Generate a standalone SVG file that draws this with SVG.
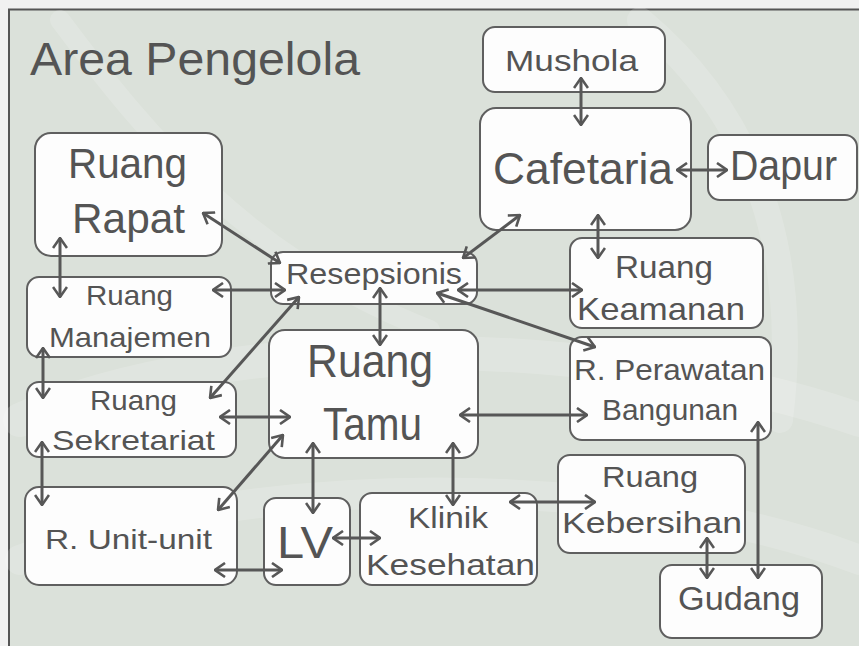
<svg xmlns="http://www.w3.org/2000/svg" width="859" height="646" viewBox="0 0 859 646">
  <defs>
    <style>
      .box { fill: #fdfdfd; stroke: #5f5f5f; stroke-width: 2; }
      .lbl { font-family: "Liberation Sans", "DejaVu Sans", sans-serif; fill: #545454; }
      .link { fill: none; stroke: #575757; stroke-width: 3; marker-start: url(#head); marker-end: url(#head); }
      .wm { fill: none; stroke: #ffffff; stroke-linecap: round; opacity: 0.16; }
    </style>
    <marker id="head" viewBox="0 0 12 16" refX="11" refY="8" markerWidth="12" markerHeight="16" markerUnits="userSpaceOnUse" orient="auto-start-reverse">
      <path d="M1,1 L11,8 L1,15" fill="none" stroke="#575757" stroke-width="2.6" stroke-linejoin="miter"/>
    </marker>
  </defs>

  <!-- page and frame -->
  <rect x="0" y="0" width="859" height="646" fill="#f1f1f1"/>
  <rect x="9" y="9.5" width="855" height="645" fill="#dbe1da" stroke="#555" stroke-width="2"/>

  <!-- faint background emblem -->
  <g id="watermark">
    <path class="wm" d="M20,420 C220,330 600,330 860,420" stroke-width="34"/>
    <path class="wm" d="M20,560 C250,470 620,470 860,560" stroke-width="30"/>
    <path class="wm" d="M640,20 C760,120 800,260 780,420" stroke-width="26"/>
    <path class="wm" d="M60,20 C150,140 250,260 430,330" stroke-width="20"/>
  </g>

  <text class="lbl" x="30" y="75" font-size="46" textLength="330" lengthAdjust="spacingAndGlyphs">Area Pengelola</text>

  <!-- rooms -->
  <g id="mushola">
    <rect class="box" x="483" y="27" width="182" height="65" rx="12"/>
    <text class="lbl" x="505" y="71" font-size="30" textLength="133" lengthAdjust="spacingAndGlyphs">Mushola</text>
  </g>
  <g id="cafetaria">
    <rect class="box" x="480" y="108" width="211" height="122" rx="16"/>
    <text class="lbl" x="493" y="184" font-size="44" textLength="180" lengthAdjust="spacingAndGlyphs">Cafetaria</text>
  </g>
  <g id="dapur">
    <rect class="box" x="708" y="135" width="149" height="65" rx="12"/>
    <text class="lbl" x="730" y="180" font-size="42" textLength="107" lengthAdjust="spacingAndGlyphs">Dapur</text>
  </g>
  <g id="ruang-rapat">
    <rect class="box" x="35" y="133" width="187" height="123" rx="16"/>
    <text class="lbl" x="68" y="178" font-size="42" textLength="119" lengthAdjust="spacingAndGlyphs">Ruang</text>
    <text class="lbl" x="72" y="233" font-size="42" textLength="113" lengthAdjust="spacingAndGlyphs">Rapat</text>
  </g>
  <g id="resepsionis">
    <rect class="box" x="271" y="252" width="206" height="52" rx="12"/>
    <text class="lbl" x="286" y="284" font-size="29" textLength="176" lengthAdjust="spacingAndGlyphs">Resepsionis</text>
  </g>
  <g id="ruang-keamanan">
    <rect class="box" x="570" y="238" width="193" height="90" rx="12"/>
    <text class="lbl" x="615" y="278" font-size="32" textLength="98" lengthAdjust="spacingAndGlyphs">Ruang</text>
    <text class="lbl" x="577" y="320" font-size="32" textLength="168" lengthAdjust="spacingAndGlyphs">Keamanan</text>
  </g>
  <g id="ruang-manajemen">
    <rect class="box" x="27" y="277" width="204" height="80" rx="12"/>
    <text class="lbl" x="86" y="305" font-size="28" textLength="87" lengthAdjust="spacingAndGlyphs">Ruang</text>
    <text class="lbl" x="49" y="347" font-size="28" textLength="162" lengthAdjust="spacingAndGlyphs">Manajemen</text>
  </g>
  <g id="ruang-tamu">
    <rect class="box" x="269" y="330" width="209" height="128" rx="16"/>
    <text class="lbl" x="307" y="377" font-size="47" textLength="126" lengthAdjust="spacingAndGlyphs">Ruang</text>
    <text class="lbl" x="323" y="440" font-size="47" textLength="99" lengthAdjust="spacingAndGlyphs">Tamu</text>
  </g>
  <g id="r-perawatan-bangunan">
    <rect class="box" x="570" y="337" width="201" height="103" rx="12"/>
    <text class="lbl" x="574" y="380" font-size="29" textLength="191" lengthAdjust="spacingAndGlyphs">R. Perawatan</text>
    <text class="lbl" x="602" y="420" font-size="29" textLength="136" lengthAdjust="spacingAndGlyphs">Bangunan</text>
  </g>
  <g id="ruang-sekretariat">
    <rect class="box" x="27" y="382" width="209" height="75" rx="12"/>
    <text class="lbl" x="90" y="410" font-size="28" textLength="87" lengthAdjust="spacingAndGlyphs">Ruang</text>
    <text class="lbl" x="52" y="450" font-size="28" textLength="163" lengthAdjust="spacingAndGlyphs">Sekretariat</text>
  </g>
  <g id="ruang-kebersihan">
    <rect class="box" x="558" y="455" width="187" height="98" rx="12"/>
    <text class="lbl" x="602" y="487" font-size="30" textLength="96" lengthAdjust="spacingAndGlyphs">Ruang</text>
    <text class="lbl" x="562" y="533" font-size="30" textLength="180" lengthAdjust="spacingAndGlyphs">Kebersihan</text>
  </g>
  <g id="r-unit-unit">
    <rect class="box" x="25" y="487" width="212" height="98" rx="14"/>
    <text class="lbl" x="45" y="549" font-size="28" textLength="167" lengthAdjust="spacingAndGlyphs">R. Unit-unit</text>
  </g>
  <g id="lv">
    <rect class="box" x="264" y="498" width="86" height="87" rx="12"/>
    <text class="lbl" x="277" y="558" font-size="44" textLength="56" lengthAdjust="spacingAndGlyphs">LV</text>
  </g>
  <g id="klinik-kesehatan">
    <rect class="box" x="360" y="493" width="177" height="92" rx="12"/>
    <text class="lbl" x="408" y="528" font-size="30" textLength="80" lengthAdjust="spacingAndGlyphs">Klinik</text>
    <text class="lbl" x="366" y="575" font-size="30" textLength="169" lengthAdjust="spacingAndGlyphs">Kesehatan</text>
  </g>
  <g id="gudang">
    <rect class="box" x="660" y="565" width="162" height="73" rx="12"/>
    <text class="lbl" x="678" y="610" font-size="34" textLength="122" lengthAdjust="spacingAndGlyphs">Gudang</text>
  </g>

  <!-- connectors, drawn over the rooms they link -->
  <g id="connectors">
    <line class="link" x1="581" y1="78" x2="581" y2="125"/>
    <line class="link" x1="677" y1="170" x2="727" y2="170"/>
    <line class="link" x1="520" y1="215" x2="463" y2="258"/>
    <line class="link" x1="598" y1="215" x2="598" y2="258"/>
    <line class="link" x1="458" y1="290" x2="582" y2="290"/>
    <line class="link" x1="437" y1="293" x2="595" y2="347"/>
    <line class="link" x1="203" y1="213" x2="280" y2="263"/>
    <line class="link" x1="213" y1="290" x2="285" y2="290"/>
    <line class="link" x1="299" y1="297" x2="210" y2="398"/>
    <line class="link" x1="380" y1="288" x2="380" y2="345"/>
    <line class="link" x1="60" y1="238" x2="60" y2="297"/>
    <line class="link" x1="43" y1="348" x2="43" y2="398"/>
    <line class="link" x1="42" y1="442" x2="42" y2="505"/>
    <line class="link" x1="220" y1="417" x2="290" y2="417"/>
    <line class="link" x1="218" y1="510" x2="283" y2="435"/>
    <line class="link" x1="215" y1="570" x2="282" y2="570"/>
    <line class="link" x1="313" y1="443" x2="313" y2="513"/>
    <line class="link" x1="333" y1="538" x2="380" y2="538"/>
    <line class="link" x1="453" y1="443" x2="453" y2="505"/>
    <line class="link" x1="460" y1="415" x2="587" y2="415"/>
    <line class="link" x1="510" y1="502" x2="595" y2="502"/>
    <line class="link" x1="707" y1="538" x2="707" y2="578"/>
    <line class="link" x1="758" y1="422" x2="758" y2="578"/>
  </g>
</svg>
